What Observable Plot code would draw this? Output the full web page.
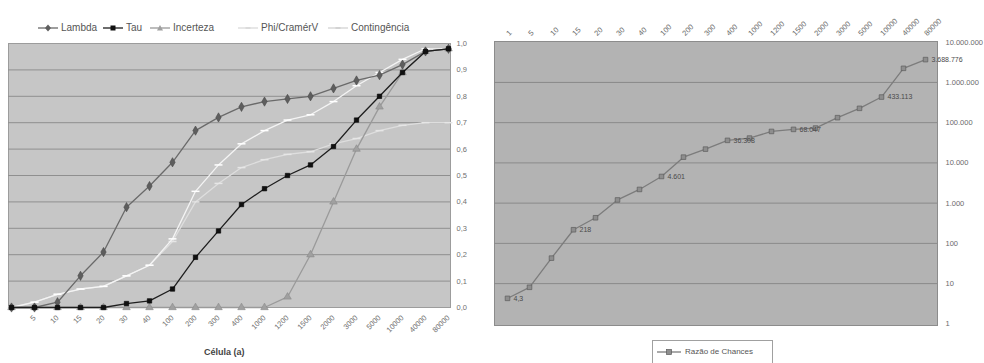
<!DOCTYPE html>
<html><head><meta charset="utf-8">
<script src="https://cdn.jsdelivr.net/npm/d3@7"></script>
<script src="https://cdn.jsdelivr.net/npm/@observablehq/plot@0.6"></script>
<style>
body{margin:0;background:#fff;font-family:"Liberation Sans",Arial,sans-serif;}
#wrap{position:relative;width:984px;height:363px;overflow:hidden;background:#fff;}
.abs{position:absolute;}
.leg{position:absolute;font-size:10px;color:#555;white-space:nowrap;line-height:12px;}
.leg svg{vertical-align:middle;margin-right:3px;}
svg text{-webkit-font-smoothing:antialiased;}
</style></head><body><div id="wrap"></div>
<script>
// ---------- data ----------
const categories = ["1","5","10","15","20","30","40","100","200","300","400","1000","1200","1500","2000","3000","5000","10000","40000","80000"];
const lambda       = [0,0,0.02,0.12,0.21,0.38,0.46,0.55,0.67,0.72,0.76,0.78,0.79,0.80,0.83,0.86,0.88,0.92,0.97,0.98];
const tau          = [0,0,0,0,0,0.015,0.025,0.07,0.19,0.29,0.39,0.45,0.50,0.54,0.61,0.71,0.80,0.89,0.97,0.98];
const incerteza    = [0,0,0,0,0,0,0,0,0,0,0,0,0.04,0.20,0.40,0.60,0.76,0.89,0.97,0.98];
const phiCramerV   = [0,0.02,0.05,0.07,0.08,0.12,0.16,0.26,0.44,0.54,0.62,0.67,0.71,0.73,0.78,0.84,0.89,0.94,0.98,0.98];
const contingencia = [0,0.02,0.05,0.07,0.08,0.12,0.16,0.25,0.40,0.47,0.53,0.56,0.58,0.59,0.62,0.64,0.67,0.69,0.70,0.70];
const seriesNames  = ["Lambda","Tau","Incerteza","Phi/CramérV","Contingência"];
const leftYTicks   = [0,0.1,0.2,0.3,0.4,0.5,0.6,0.7,0.8,0.9,1.0];
const oddsRatio    = [4.3,8.1,43,218,433,1200,2190,4601,13900,22000,36308,41400,60500,68047,73400,133000,227000,433113,2240000,3688776];
const labeledPoints = ["1","15","100","400","1500","10000","80000"];
const rightYTicks  = [1,10,100,1000,10000,100000,1000000,10000000];
const xTitle = "Célula (a)";
const rightSeriesName = "Razão de Chances";

// ---------- helpers ----------
const thousands = n => {
  const s = String(n).split(".");
  return s[0].replace(/\B(?=(\d{3})+(?!\d))/g, ".") + (s[1] ? "," + s[1] : "");
};
const dashSymbol = {draw(ctx, size){const w = Math.sqrt(size)*0.75; ctx.moveTo(-w,0); ctx.lineTo(w,0);}};

const wrap = document.getElementById("wrap");

// ---------- left chart ----------
const values = [lambda, tau, incerteza, phiCramerV, contingencia];
const styles = [
  {stroke:"#6a6a6a", mfill:"#5e5e5e", mstroke:"#4a4a4a", symbol:"diamond", r:2.8},
  {stroke:"#1e1e1e", mfill:"#111", mstroke:"#000", symbol:"square", r:2.5},
  {stroke:"#9a9a9a", mfill:"#a0a0a0", mstroke:"#8a8a8a", symbol:"triangle", r:2.8},
  {stroke:"#f4f4f4", mfill:"none", mstroke:"#ffffff", symbol:dashSymbol, r:3},
  {stroke:"#dedede", mfill:"none", mstroke:"#e6e6e6", symbol:dashSymbol, r:3}
];
const leftMarks = [
  Plot.frame({fill:"#c6c6c6", stroke:"#9c9c9c"}),
  Plot.ruleY(leftYTicks.slice(1,-1), {stroke:"#8f8f8f", strokeWidth:1}),
];
[4,3,2,0,1].forEach(k => {
  const rows = categories.map((c,i) => ({c, v: values[k][i]}));
  const st = styles[k];
  leftMarks.push(Plot.line(rows, {x:"c", y:"v", stroke:st.stroke, strokeWidth:1.3}));
  leftMarks.push(Plot.dot(rows, {x:"c", y:"v", symbol:st.symbol, r:st.r, fill:st.mfill, stroke:st.mstroke, strokeWidth:st.mfill==="none"?1.5:0.6}));
});
const left = Plot.plot({
  width:490, height:363,
  marginLeft:8, marginRight:40, marginTop:43, marginBottom:56,
  style:{background:"transparent", fontSize:"7.5px", color:"#707070", fontFamily:"Liberation Sans, Arial, sans-serif"},
  x:{type:"point", domain:categories, padding:0, tickRotate:-45, tickSize:0, tickPadding:9,
     tickFormat:(d) => d === categories[0] ? "" : d, label:null},
  y:{domain:[0,1], axis:"right", ticks:leftYTicks, tickSize:0, tickPadding:6,
     tickFormat:d => d.toFixed(1).replace(".", ","), label:null},
  marks:leftMarks
});
left.style.position = "absolute"; left.style.left = "0px"; left.style.top = "0px";
wrap.appendChild(left);

// left legend
const legendPos = [38, 103, 150, 238, 328];
seriesNames.forEach((name, k) => {
  const st = styles[k];
  const d = document.createElement("div");
  d.className = "leg";
  d.style.left = legendPos[k] + "px"; d.style.top = "22px";
  const sym = st.symbol === "diamond" ? '<path d="M10 2.5 L13 6 L10 9.5 L7 6 Z" fill="'+st.mfill+'"/>'
    : st.symbol === "square" ? '<rect x="7.5" y="3.5" width="5" height="5" fill="'+st.mfill+'"/>'
    : st.symbol === "triangle" ? '<path d="M10 3 L13 8.5 L7 8.5 Z" fill="'+st.mfill+'"/>'
    : '<line x1="7.5" y1="6" x2="12.5" y2="6" stroke="'+(k===3?"#d8d8d8":"#d0d0d0")+'" stroke-width="1.6"/>';
  const lineCol = k===3 ? "#dadada" : k===4 ? "#d2d2d2" : st.stroke;
  d.innerHTML = '<svg width="20" height="12"><line x1="0" y1="6" x2="20" y2="6" stroke="'+lineCol+'" stroke-width="1.3"/>'+sym+'</svg>'+name;
  wrap.appendChild(d);
});
const xt = document.createElement("div");
xt.className = "abs";
xt.style.cssText = "left:204px;top:347px;font-size:9px;font-weight:bold;color:#444;";
xt.textContent = xTitle;
wrap.appendChild(xt);

// ---------- right chart ----------
const rightRows = categories.map((c,i) => ({c, v: oddsRatio[i]}));
const right = Plot.plot({
  width:494, height:363,
  marginLeft:4, marginRight:47, marginTop:41, marginBottom:38,
  style:{background:"transparent", fontSize:"7.5px", color:"#6a6a6a", fontFamily:"Liberation Sans, Arial, sans-serif"},
  x:{type:"point", domain:categories, padding:0.5, axis:"top", tickRotate:-45, tickSize:0, tickPadding:7, label:null},
  y:{type:"log", domain:[0.91, 1.04e7], axis:"right", ticks:rightYTicks, tickSize:0, tickPadding:8,
     tickFormat:d => thousands(d), label:null},
  marks:[
    Plot.frame({fill:"#b3b3b3", stroke:"#8c8c8c"}),
    Plot.ruleY(rightYTicks.slice(1,-1), {stroke:"#8a8a8a"}),
    Plot.line(rightRows, {x:"c", y:"v", stroke:"#7c7c7c", strokeWidth:1.3}),
    Plot.dot(rightRows, {x:"c", y:"v", symbol:"square", r:2.6, fill:"#8e8e8e", stroke:"#5c5c5c", strokeWidth:0.7}),
    Plot.text(rightRows.filter(d => labeledPoints.includes(d.c)), {x:"c", y:"v", text:d => thousands(d.v),
      dx:6, textAnchor:"start", fontSize:7, fill:"#4a4a4a"})
  ]
});
right.style.position = "absolute"; right.style.left = "490px"; right.style.top = "0px";
wrap.appendChild(right);

// right legend
const rl = document.createElement("div");
rl.className = "abs";
rl.style.cssText = "left:652px;top:340px;width:119px;height:24px;border:1px solid #a0a0a0;background:#fff;font-size:8px;color:#555;white-space:nowrap;";
rl.innerHTML = '<div style="position:absolute;left:4px;top:6px;"><svg width="24" height="10" style="vertical-align:middle;margin-right:4px;"><line x1="0" y1="5" x2="24" y2="5" stroke="#7c7c7c" stroke-width="1.3"/><rect x="9.5" y="2.5" width="5" height="5" fill="#8e8e8e" stroke="#5c5c5c" stroke-width="0.7"/></svg>' + rightSeriesName + '</div>';
wrap.appendChild(rl);
</script>
</body></html>
